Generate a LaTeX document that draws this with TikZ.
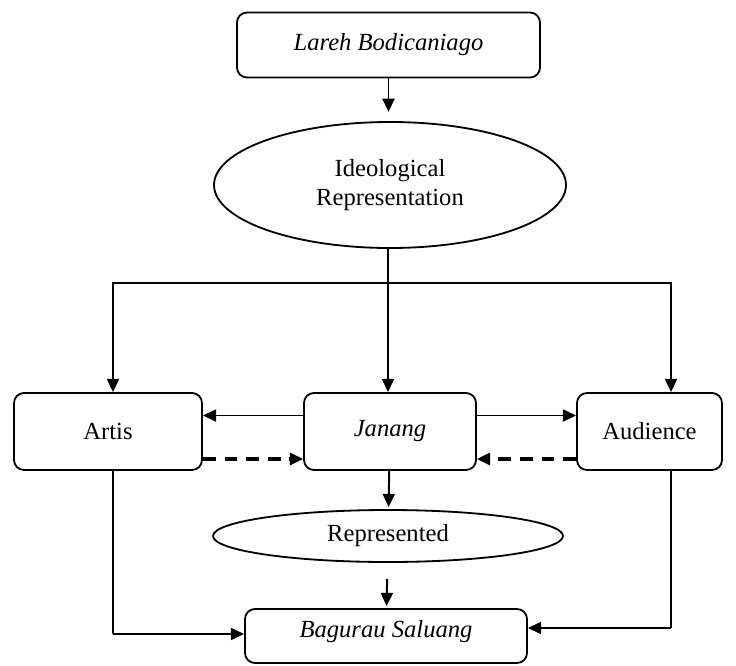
\documentclass[tikz,border=0pt]{standalone}
\usepackage{fontspec}
\setmainfont{Liberation Serif}
\usetikzlibrary{arrows.meta, shapes.geometric, calc}
\definecolor{Ink}{HTML}{000000}

\tikzset{
  box/.style={draw=Ink, line width=1.3pt, rounded corners=0.25cm, inner sep=0pt},
  oval/.style={draw=Ink, line width=1.3pt, ellipse, inner sep=0pt, align=center},
  arr/.style={draw=Ink, line width=1.4pt, -{Triangle[length=0.33cm, width=0.3cm]}},
  dasharr/.style={arr, line width=2.2pt, dash pattern=on 0.32cm off 0.22cm},
  link/.style={draw=Ink, line width=1.4pt}
}

\begin{document}
\begin{tikzpicture}[x=0.025cm, y=-0.025cm, every node/.style={font=\fontsize{17.5}{21}\selectfont}]
      \useasboundingbox (0,0) rectangle (736,665);
      % nodes
      \node[box, minimum width=303*0.025cm, minimum height=65*0.025cm] (lareh) at (388.5,45) {\textit{Lareh Bodicaniago}};
      \node[oval, minimum width=352*0.025cm, minimum height=126*0.025cm] (ideo) at (390,185) {Ideological\\Representation};
      \node[box, minimum width=188*0.025cm, minimum height=77*0.025cm] (artis) at (108,431.5) {Artis};
      \node[box, minimum width=172*0.025cm, minimum height=77*0.025cm] (janang) at (390,431.5) {\textit{Janang}};
      \node[box, minimum width=145*0.025cm, minimum height=77*0.025cm] (aud) at (649.5,431.5) {Audience};
      \node[oval, minimum width=350*0.025cm, minimum height=52*0.025cm] (repr) at (388,536) {Represented};
      \node[box, minimum width=282*0.025cm, minimum height=54*0.025cm, text depth=0.35cm] (bag) at (386,636) {\textit{Bagurau Saluang}};
      \coordinate (split) at (388,283);
      \coordinate (audtop) at (671,283);
      \coordinate (artbot) at (113,634);
      \coordinate (audbot) at (671,628);
      % connectors
      \draw[arr, shorten >=0.23cm] (lareh) -- (lareh |- ideo.north);
      \draw[link] (split |- ideo.south) -- (split);
      \draw[arr] (split) -- (split |- janang.north);
      \draw[arr] (split) -| (artis.north -| artbot);
      \draw[arr] (split) -- (audtop) -- (aud.north -| audtop);
      \draw[arr] ($(janang.west)+(0,-16)$) -- ($(artis.east)+(0,-16)$);
      \draw[arr] ($(janang.east)+(0,-16)$) -- ($(aud.west)+(0,-16)$);
      \draw[dasharr] ($(artis.east)+(0,27.5)$) -- ($(janang.west)+(0,27.5)$);
      \draw[dasharr] ($(aud.west)+(0,27.5)$) -- ($(janang.east)+(0,27.5)$);
      \draw[arr, shorten >=0.05cm] (janang) -- (repr);
      \draw[arr, shorten <=0.4cm, shorten >=0.05cm] (repr) -- (bag);
      \draw[link] (artis.south -| artbot) -- (artbot);
      \draw[arr] (artbot) -- (artbot -| bag.west);
      \draw[link] (aud.south -| audbot) -- (audbot);
      \draw[arr] (audbot) -- (audbot -| bag.east);
    \end{tikzpicture}
\end{document}
